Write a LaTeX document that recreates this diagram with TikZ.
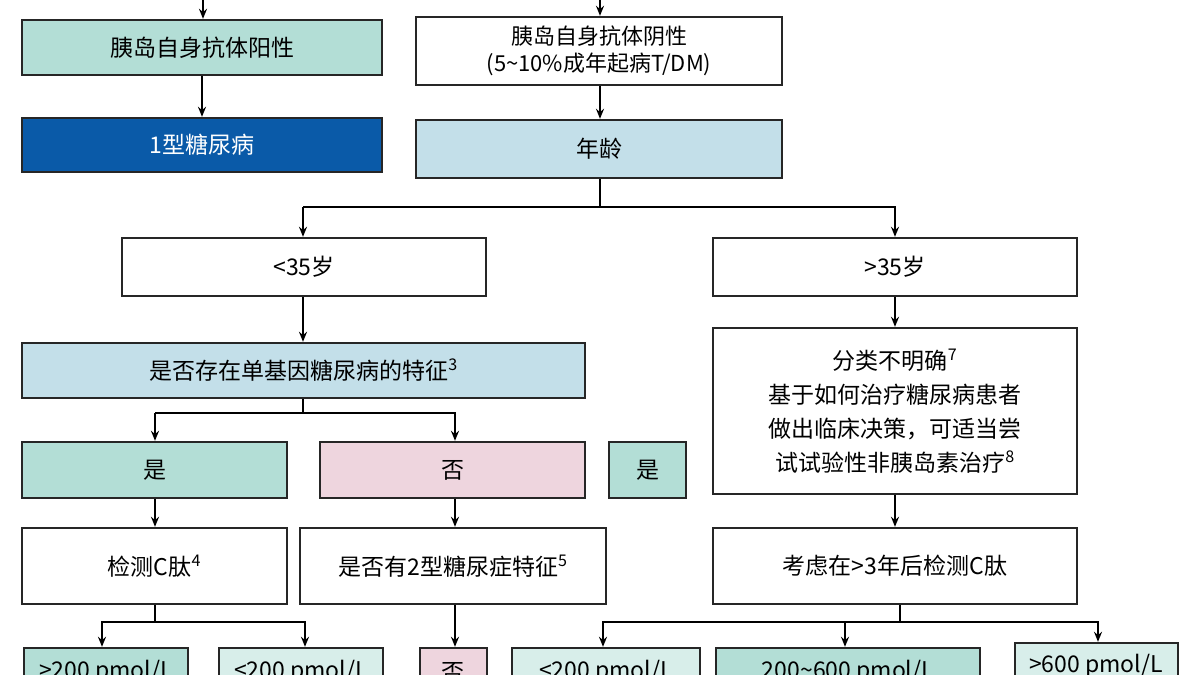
\documentclass[tikz,border=0pt]{standalone}
\usepackage{fontspec}
\setmainfont{Noto Sans CJK SC}
\usetikzlibrary{arrows.meta}
\definecolor{teal1}{HTML}{B3DED6}
\definecolor{teal2}{HTML}{D8EEEA}
\definecolor{blue1}{HTML}{0A5AA8}
\definecolor{blue2}{HTML}{C3DFE9}
\definecolor{pink1}{HTML}{EED5DE}
\tikzset{
  box/.style={draw=black!85, line width=2.4pt, align=center, inner sep=0pt},
  txt/.style={font=\fontsize{23}{30}\selectfont, align=center},
  arr/.style={-{Stealth[length=10pt,width=8pt]}, line width=1.8pt},
  ln/.style={line width=1.8pt}
}
% place a box by its pixel corners
\newcommand{\pbox}[6]{\node[box,#6,minimum width=#4-#2, minimum height=#5-#3] (#1) at ({(#2+#4)/2},{(#3+#5)/2}) {};}
\begin{document}
\begin{tikzpicture}[x=1pt,y=-1pt]
  \clip (0,0) rectangle (1200,675);
  \useasboundingbox (0,0) rectangle (1200,675);
  \pbox{pos}{22}{20}{382}{75}{fill=teal1}
  \pbox{neg}{416}{17}{782}{85}{fill=white}
  \pbox{t1}{22}{118}{382}{172}{fill=blue1}
  \pbox{age}{416}{120}{782}{178}{fill=blue2}
  \pbox{young}{122}{238}{486}{296}{fill=white}
  \pbox{old}{713}{238}{1077}{296}{fill=white}
  \pbox{mody}{22}{343}{585}{398}{fill=blue2}
  \pbox{unclear}{713}{328}{1077}{494}{fill=white}
  \pbox{yes}{22}{442}{287}{498}{fill=teal1}
  \pbox{no}{320}{442}{585}{498}{fill=pink1}
  \pbox{yesb}{609}{442}{686}{498}{fill=teal1}
  \pbox{cpep}{22}{528}{287}{604}{fill=white}
  \pbox{ttwo}{300}{528}{606}{604}{fill=white}
  \pbox{later}{713}{528}{1077}{604}{fill=white}
  \pbox{hi}{24}{648}{188}{700}{fill=teal1}
  \pbox{lo}{219}{648}{383}{700}{fill=teal2}
  \pbox{nob}{420}{648}{487}{700}{fill=pink1}
  \pbox{lob}{512}{648}{700}{700}{fill=teal2}
  \pbox{mid}{716}{648}{980}{700}{fill=teal1}
  \pbox{hib}{1015}{643}{1178}{700}{fill=teal2}
  % texts
  \node[txt] at (pos) {胰岛自身抗体阳性};
  \node[txt,font=\fontsize{22}{27}\selectfont] at (neg) {胰岛自身抗体阴性\\(5\textasciitilde10\%成年起病T/DM)};
  \node[txt,white] at (t1) {1型糖尿病};
  \node[txt] at (age) {年龄};
  \node[txt] at (young) {<35岁};
  \node[txt] at (old) {>35岁};
  \node[txt] at (mody) {是否存在单基因糖尿病的特征\textsuperscript{3}};
  \node[txt,font=\fontsize{23}{34}\selectfont] at (unclear) {分类不明确\textsuperscript{7}\\基于如何治疗糖尿病患者\\做出临床决策，可适当尝\\试试验性非胰岛素治疗\textsuperscript{8}};
  \node[txt] at (yes) {是};
  \node[txt] at (no) {否};
  \node[txt] at (yesb) {是};
  \node[txt] at (cpep) {检测C肽\textsuperscript{4}};
  \node[txt] at (ttwo) {是否有2型糖尿症特征\textsuperscript{5}};
  \node[txt] at (later) {考虑在>3年后检测C肽};
  \node[txt] at (106,672) {>200 pmol/L};
  \node[txt] at (301,672) {<200 pmol/L};
  \node[txt] at (453,672) {否};
  \node[txt] at (606,672) {<200 pmol/L};
  \node[txt] at (848,672) {200\textasciitilde600 pmol/L};
  \node[txt] at (1096,666) {>600 pmol/L};
  % connectors
  \coordinate (topa) at (203,0);
  \coordinate (topb) at (600,0);
  \draw[arr] (topa) -- (pos.north -| topa);
  \draw[arr] (topb) -- (neg.north -| topb);
  \draw[arr] (pos) -- (t1);
  \draw[arr] (neg.south -| topb) -- (age.north -| topb);
  \draw[ln] (age.south -| topb) -- (600,207) -| (303,207);
  \draw[arr] (303,207) -- (young.north -| 303,0);
  \draw[arr] (600,207) -| (old.north -| 895,0);
  \draw[arr] (young.south -| 303,0) -- (mody.north -| 303,0);
  \draw[ln] (mody.south -| 303,0) -- (303,413);
  \draw[arr] (155,413) -- (yes.north -| 155,0);
  \draw[arr] (155,413) -- (455,413) -- (no.north -| 455,0);
  \draw[arr] (yes.south -| 155,0) -- (cpep.north -| 155,0);
  \draw[arr] (no.south -| 455,0) -- (ttwo.north -| 455,0);
  \draw[arr] (old.south -| 895,0) -- (unclear.north -| 895,0);
  \draw[arr] (unclear.south -| 895,0) -- (later.north -| 895,0);
  \draw[ln] (cpep.south -| 155,0) -- (155,622);
  \draw[arr] (155,622) -| (hi.north -| 102,0);
  \draw[arr] (155,622) -| (lo.north -| 305,0);
  \draw[arr] (ttwo.south -| 455,0) -- (nob.north -| 455,0);
  \draw[ln] (later.south -| 900,0) -- (900,622);
  \draw[arr] (900,622) -| (lob.north -| 603,0);
  \draw[arr] (845,622) -- (mid.north -| 845,0);
  \draw[arr] (900,622) -| (hib.north -| 1098,0);
\end{tikzpicture}
\end{document}
